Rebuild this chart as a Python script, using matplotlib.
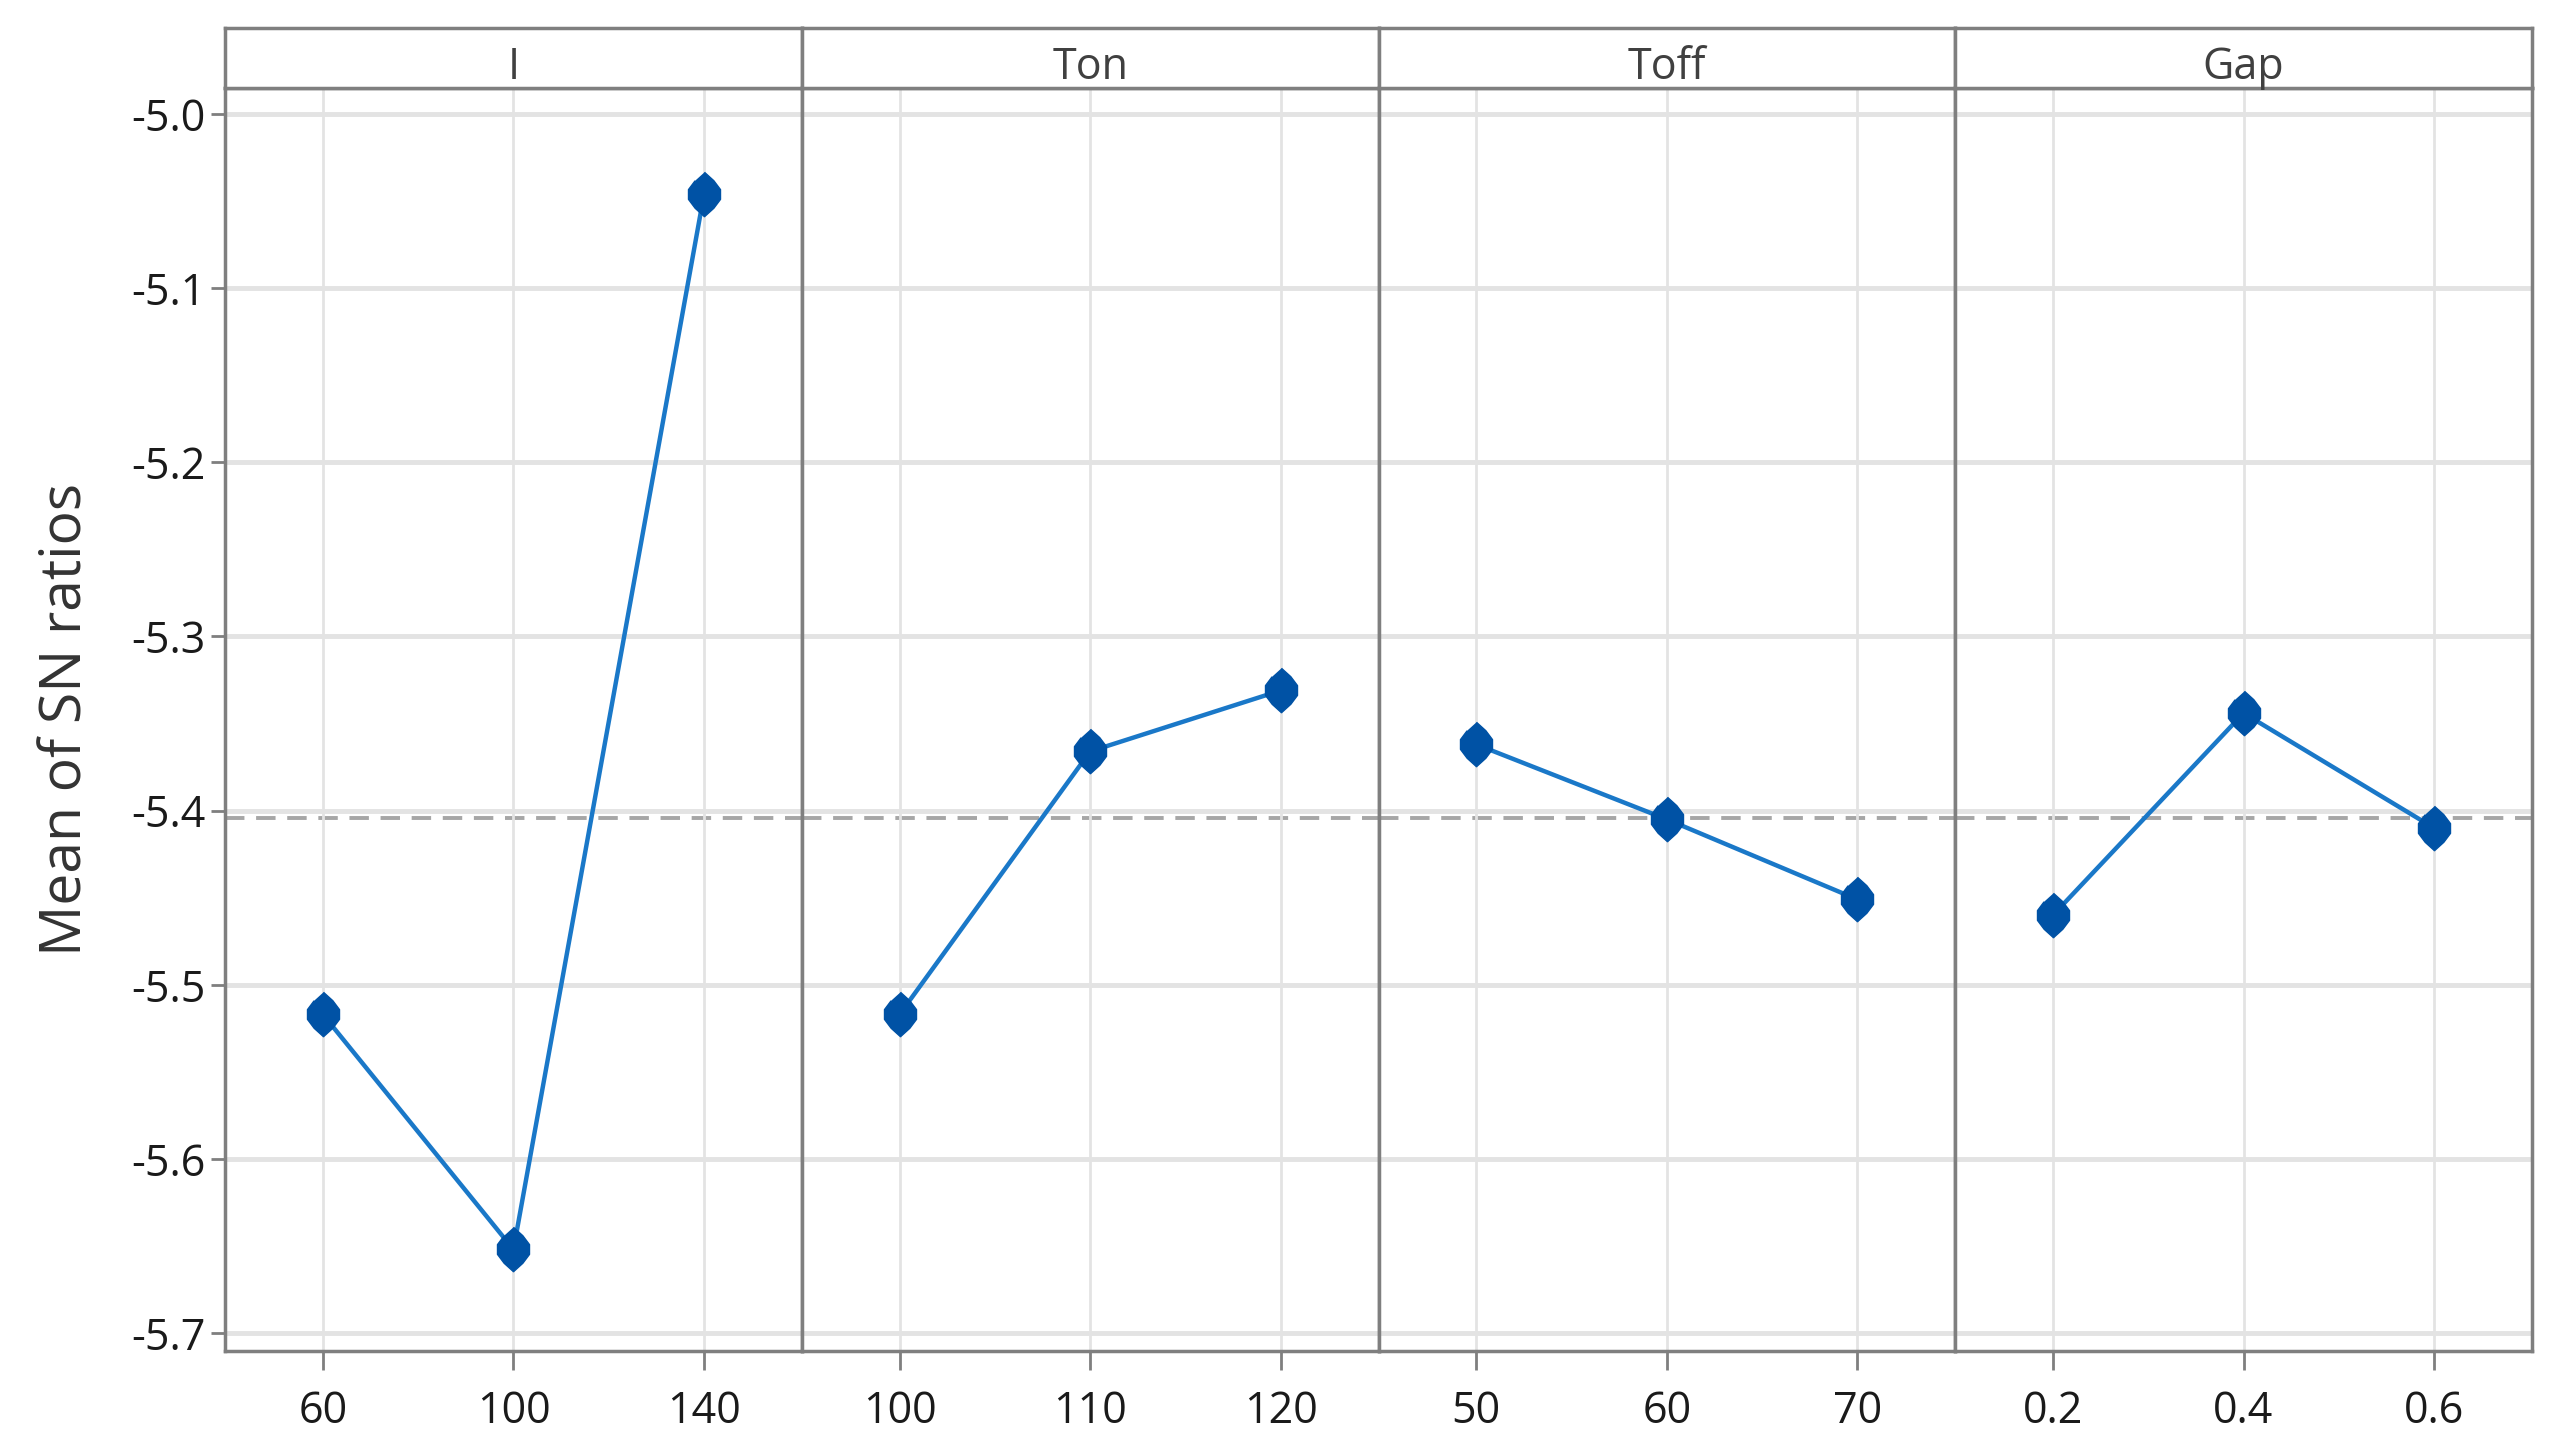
import matplotlib
matplotlib.use("Agg")
import matplotlib.pyplot as plt

# main effects plot for SN ratios (larger is better)
factors = ["I", "Ton", "Toff", "Gap"]
levels = [
    ["60", "100", "140"],
    ["100", "110", "120"],
    ["50", "60", "70"],
    ["0.2", "0.4", "0.6"],
]
sn_means = [
    [-5.517, -5.652, -5.046],
    [-5.517, -5.366, -5.331],
    [-5.362, -5.405, -5.451],
    [-5.460, -5.344, -5.410],
]
grand_mean = -5.404
y_ticks = [-5.0, -5.1, -5.2, -5.3, -5.4, -5.5, -5.6, -5.7]

plt.rcParams["font.family"] = ["Open Sans", "DejaVu Sans"]

frame_col = "#7f7f7f"
line_col = "#1a78c8"
marker_col = "#0052a5"
grid_col = "#e3e3e3"
# tall rounded diamond, like the markers in the original
marker_shape = [(0, 1), (0.42, 0.62), (0.72, 0.22), (0.72, -0.22), (0.42, -0.62),
                (0, -1), (-0.42, -0.62), (-0.72, -0.22), (-0.72, 0.22), (-0.42, 0.62)]

fig = plt.figure(figsize=(25.58, 14.44), dpi=100)

left, right = 0.0880, 0.9898
bottom, top = 0.0644, 0.9391
strip_top = 0.9806
w = (right - left) / len(factors)

for i, name in enumerate(factors):
    x0 = left + i * w
    ax = fig.add_axes([x0, bottom, w, top - bottom])
    xs = list(range(len(levels[i])))

    ax.axhline(grand_mean, color="#a6a6a6", linestyle=(0, (5, 3)), linewidth=2.8, zorder=1)
    ax.plot(xs, sn_means[i], color=line_col, linewidth=3.2, zorder=3)
    ax.plot(xs, sn_means[i], linestyle="none", marker=marker_shape, markersize=32,
            markerfacecolor=marker_col, markeredgecolor=marker_col,
            markeredgewidth=1, zorder=4)

    ax.set_xlim(-0.513, 2.513)
    ax.set_ylim(-5.7103, -4.985)
    ax.set_xticks(xs)
    ax.set_xticklabels(levels[i])
    ax.set_yticks(y_ticks)
    ax.grid(True, axis="y", color=grid_col, linewidth=3.5, zorder=0)
    ax.grid(True, axis="x", color=grid_col, linewidth=2.0, zorder=0)

    for sp in ax.spines.values():
        sp.set_color(frame_col)
        sp.set_linewidth(2.5)

    ax.tick_params(axis="x", length=14, width=2, color=frame_col,
                   labelsize=31, labelcolor="#1a1a1a", pad=14)
    if i == 0:
        ax.tick_params(axis="y", length=10, width=2, color=frame_col,
                       labelsize=31, labelcolor="#1a1a1a", pad=4)
        ax.set_yticklabels([f"{t:.1f}" for t in y_ticks])
        ax.set_ylabel("Mean of SN ratios", fontsize=41, color="#333333", labelpad=26)
    else:
        ax.tick_params(axis="y", left=False, labelleft=False)

    # strip header
    sax = fig.add_axes([x0, top, w, strip_top - top])
    sax.set_xticks([])
    sax.set_yticks([])
    for sp in sax.spines.values():
        sp.set_color(frame_col)
        sp.set_linewidth(2.5)
    sax.text(0.5, 0.34, name, ha="center", va="center", fontsize=31,
             color="#404040", transform=sax.transAxes)

fig.savefig("out.png")
plt.close(fig)
